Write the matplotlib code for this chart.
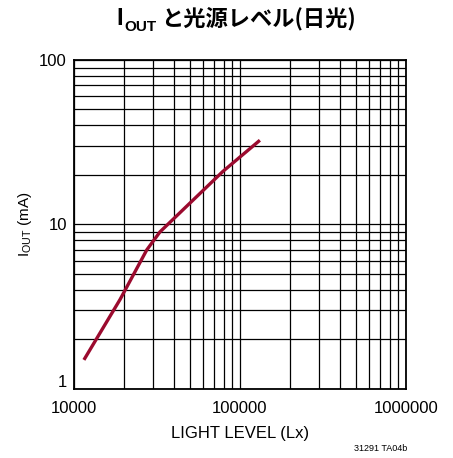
import matplotlib
matplotlib.use("Agg")
import matplotlib.pyplot as plt
from matplotlib.ticker import LogLocator, NullFormatter, FixedLocator
import matplotlib.transforms as mtransforms
import numpy as np

# curve (log-log)
light_lx = [11500, 19000, 27500, 33000, 79000, 132000]
iout_ma = [1.5, 3.5, 7.0, 9.0, 21.0, 32.5]

x_ticks = [10000, 100000, 1000000]
x_tick_labels = ["10000", "100000", "1000000"]
y_ticks = [1, 10, 100]
y_tick_labels = ["1", "10", "100"]

plt.rcParams['font.family'] = ['Liberation Sans', 'DejaVu Sans']
plt.rcParams['mathtext.fontset'] = 'custom'
plt.rcParams['mathtext.rm'] = 'Liberation Sans'

fig = plt.figure(figsize=(4.53, 4.58), dpi=100)
ax = fig.add_axes([0.163, 0.151, 0.733, 0.718])

ax.plot(light_lx, iout_ma, color="#9b0a2e", lw=2.4, solid_capstyle="butt", zorder=3)

ax.set_xscale("log")
ax.set_yscale("log")
ax.set_xlim(10000, 1000000)
ax.set_ylim(1, 100)

ax.xaxis.set_major_locator(FixedLocator(x_ticks))
ax.set_xticklabels(x_tick_labels)
ax.yaxis.set_major_locator(FixedLocator(y_ticks))
ax.set_yticklabels(y_tick_labels)
ax.xaxis.set_minor_locator(LogLocator(base=10, subs=np.arange(2, 10)))
ax.yaxis.set_minor_locator(LogLocator(base=10, subs=np.arange(2, 10)))
ax.xaxis.set_minor_formatter(NullFormatter())
ax.yaxis.set_minor_formatter(NullFormatter())
ax.tick_params(which="both", length=0, labelsize=12)
ax.tick_params(axis="x", pad=9)
ax.tick_params(axis="y", pad=5)
# lift the bottom "1" a little, like the reference
ylabs = ax.get_yticklabels()
ylabs[0].set_transform(ylabs[0].get_transform() + mtransforms.ScaledTranslation(0, 6 / 72, fig.dpi_scale_trans))

ax.grid(True, which="both", color="black", lw=0.9)
for s in ax.spines.values():
    s.set_linewidth(1.3)

ax.set_xlabel("LIGHT LEVEL (Lx)", fontsize=12, labelpad=7)
ax.set_ylabel(r"I$_{\mathrm{OUT}}$ (mA)", fontsize=11, labelpad=4)

# title: I + subscript OUT + Japanese text, laid out side by side
fig.canvas.draw()
r = fig.canvas.get_renderer()
t1 = fig.text(0.258, 0.945, "I", fontsize=17, fontweight="bold", ha="left", va="baseline")
bb = t1.get_window_extent(r)
x2 = (bb.x1 + 1) / fig.bbox.width
t2 = fig.text(x2, 0.933, "OUT", fontsize=11, fontweight="bold", ha="left", va="baseline")
bb = t2.get_window_extent(r)
x3 = (bb.x1 + 4) / fig.bbox.width
fig.text(x3, 0.945, "と光源レベル(日光)", fontsize=16, fontweight="bold",
         family=['Noto Sans CJK JP', 'DejaVu Sans'], ha="left", va="baseline")

fig.text(0.84, 0.01, "31291 TA04b", fontsize=6.5, ha="center", va="bottom")

fig.savefig("out.png", dpi=100)
